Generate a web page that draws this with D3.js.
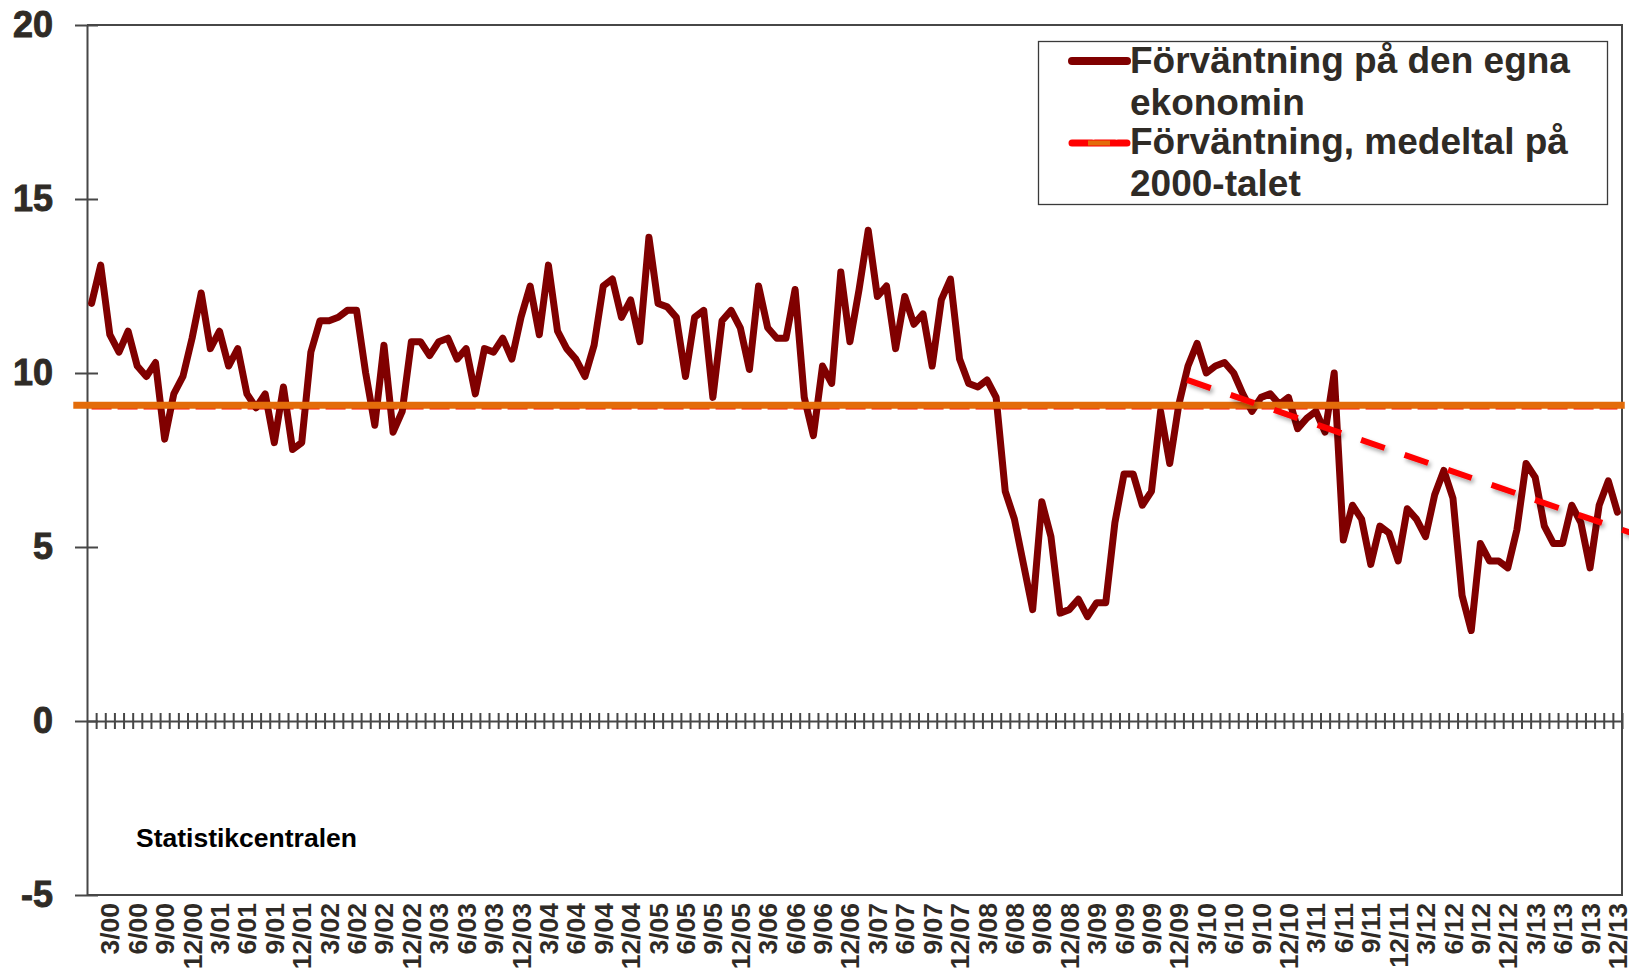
<!DOCTYPE html>
<html>
<head>
<meta charset="utf-8">
<script src="https://cdnjs.cloudflare.com/ajax/libs/d3/7.8.5/d3.min.js"></script>
<style>
  body { margin: 0; background: #fff; }
  text { font-family: "Liberation Sans", Arial, sans-serif; font-weight: bold; }
</style>
</head>
<body>
<div id="chart"></div>
<script>
// monthly values, jan 2000 -> dec 2013
var expectation = [
  12.0, 13.1, 11.1, 10.6, 11.2, 10.2, 9.9, 10.3, 8.1, 9.4, 9.9, 11.0,
  12.3, 10.7, 11.2, 10.2, 10.7, 9.4, 9.0, 9.4, 8.0, 9.6, 7.8, 8.0,
  10.6, 11.5, 11.5, 11.6, 11.8, 11.8, 10.0, 8.5, 10.8, 8.3, 8.9, 10.9,
  10.9, 10.5, 10.9, 11.0, 10.4, 10.7, 9.4, 10.7, 10.6, 11.0, 10.4, 11.6,
  12.5, 11.1, 13.1, 11.2, 10.7, 10.4, 9.9, 10.8, 12.5, 12.7, 11.6, 12.1,
  10.9, 13.9, 12.0, 11.9, 11.6, 9.9, 11.6, 11.8, 9.3, 11.5, 11.8, 11.3,
  10.1, 12.5, 11.3, 11.0, 11.0, 12.4, 9.3, 8.2, 10.2, 9.7, 12.9, 10.9,
  12.4, 14.1, 12.2, 12.5, 10.7, 12.2, 11.4, 11.7, 10.2, 12.1, 12.7, 10.4,
  9.7, 9.6, 9.8, 9.3, 6.6, 5.8, 4.5, 3.2, 6.3, 5.3, 3.1, 3.2,
  3.5, 3.0, 3.4, 3.4, 5.7, 7.1, 7.1, 6.2, 6.6, 8.9, 7.4, 9.1,
  10.2, 10.85, 10.0, 10.2, 10.3, 10.0, 9.4, 8.9, 9.3, 9.4, 9.1, 9.3,
  8.4, 8.7, 8.9, 8.3, 10.0, 5.2, 6.2, 5.8, 4.5, 5.6, 5.4, 4.6,
  6.1, 5.8, 5.3, 6.5, 7.2, 6.4, 3.6, 2.6, 5.1, 4.6, 4.6, 4.4,
  5.5, 7.4, 7.0, 5.6, 5.1, 5.1, 6.2, 5.7, 4.4, 6.2, 6.9, 6.0
];

// average of the 2000s
var averageLevel = 9.05;

// hand drawn shapes in the original: [month position, value]
var orangeLine = [[-1.5, 9.07], [168.3, 9.07]];
var trendLine = [[120.4, 9.8], [169.6, 5.35]];

var yTicks = [-5, 0, 5, 10, 15, 20];
var labelYears = ["00", "01", "02", "03", "04", "05", "06", "07", "08", "09", "10", "11", "12", "13"];
var labelMonths = [3, 6, 9, 12];

var legendLabels = [
  ["Förväntning på den egna", "ekonomin"],
  ["Förväntning, medeltal på", "2000-talet"]
];
var sourceText = "Statistikcentralen";

(function () {

  var width = 1629,
      height = 979;

  var left = 87, right = 1622, top = 25, bottom = 895;

  var ink = "#2f2b26",
      axisColor = "#474747";

  var svg = d3.select("#chart")
    .append("svg")
    .attr("width", width)
    .attr("height", height)

  var defs = svg.append("defs")

  //soft shadow under the trend dashes
  var shadow = defs.append("filter")
    .attr("id", "shadow")
    .attr("x", "-10%").attr("y", "-50%")
    .attr("width", "120%").attr("height", "200%")
  shadow.append("feDropShadow")
    .attr("dx", 2).attr("dy", 3)
    .attr("stdDeviation", 2)
    .attr("flood-color", "#000")
    .attr("flood-opacity", 0.35)

  //scales
  //x counts months from the left edge, a month is one category
  var n = expectation.length
  var x = d3.scaleLinear().domain([0, n]).range([left, right])
  var y = d3.scaleLinear().domain([-5, 20]).range([bottom, top])

  //frame of the plot (top, right, bottom)
  svg.append("path")
    .attr("d", "M" + left + "," + top + "H" + right + "V" + bottom + "H" + left)
    .attr("fill", "none")
    .attr("stroke", axisColor)
    .attr("stroke-width", 2)

  //y axis, ticks cross the line
  var yAxis = svg.append("g")
    .attr("transform", "translate(" + left + ",0)")
    .call(d3.axisLeft(y)
      .tickValues(yTicks)
      .tickSizeOuter(0)
      .tickSizeInner(12)
      .tickPadding(22)
      .tickFormat(function (d) { return String(d) }))

  yAxis.select(".domain").attr("stroke", axisColor).attr("stroke-width", 2)
  yAxis.selectAll(".tick line")
    .attr("x1", 11)
    .attr("stroke", axisColor)
    .attr("stroke-width", 2)
  //a thin stroke makes the numbers as heavy as in the original
  yAxis.selectAll(".tick text")
    .attr("fill", ink)
    .attr("stroke", ink)
    .attr("stroke-width", 0.9)
    .attr("font-size", 36)
    .attr("font-family", "Liberation Sans, Arial, sans-serif")
    .attr("font-weight", "bold")

  //x axis sits on zero, a tick between every month
  var xAxis = svg.append("g")
    .attr("transform", "translate(0," + y(0) + ")")
    .call(d3.axisBottom(x)
      .tickValues(d3.range(1, n + 1))
      .tickSizeOuter(0)
      .tickSizeInner(8)
      .tickFormat(""))

  xAxis.select(".domain").attr("stroke", axisColor).attr("stroke-width", 2)
  xAxis.selectAll(".tick line")
    .attr("y1", -8)
    .attr("stroke", axisColor)
    .attr("stroke-width", 2)

  //month labels under the plot, every third month
  var labels = []
  labelYears.forEach(function (yy, k) {
    labelMonths.forEach(function (m) {
      labels.push({ text: m + "/" + yy, month: k * 12 + m - 1 })
    })
  })

  svg.append("g").selectAll("text")
    .data(labels)
    .enter().append("text")
    .attr("transform", function (d) {
      return "translate(" + x(d.month + 0.5) + "," + (bottom + 8) + ") rotate(-90)"
    })
    .attr("text-anchor", "end")
    .attr("dy", "0.36em")
    .attr("font-size", 26.5)
    .attr("fill", ink)
    .text(function (d) { return d.text })

  //average series, red dashes (mostly hidden under the orange line)
  var line = d3.line()
    .x(function (d, i) { return x(i + 0.5) })
    .y(function (d) { return y(d) })

  svg.append("path")
    .datum(expectation.map(function () { return averageLevel }))
    .attr("d", line)
    .attr("fill", "none")
    .attr("stroke", "#ff0000")
    .attr("stroke-width", 7)
    .attr("stroke-dasharray", "20,6")

  //main series
  svg.append("path")
    .datum(expectation)
    .attr("d", line)
    .attr("fill", "none")
    .attr("stroke", "#800000")
    .attr("stroke-width", 7)
    .attr("stroke-linejoin", "round")
    .attr("stroke-linecap", "round")

  //orange average line drawn across the whole chart
  var pairLine = d3.line()
    .x(function (d) { return x(d[0]) })
    .y(function (d) { return y(d[1]) })

  svg.append("path")
    .datum(orangeLine)
    .attr("d", pairLine)
    .attr("stroke", "#e36c0a")
    .attr("stroke-width", 7)

  //trend since 2010, dashed with shadow
  svg.append("path")
    .datum(trendLine)
    .attr("d", pairLine)
    .attr("stroke", "#ff0000")
    .attr("stroke-width", 6)
    .attr("stroke-dasharray", "25,21")
    .attr("filter", "url(#shadow)")

  //source
  svg.append("text")
    .attr("x", 136)
    .attr("y", 847)
    .attr("font-size", 26.5)
    .attr("fill", "#000")
    .text(sourceText)

  /* legend */
  var legend = svg.append("g")

  legend.append("rect")
    .attr("x", 1038.5)
    .attr("y", 41.5)
    .attr("width", 569)
    .attr("height", 163)
    .attr("fill", "#fff")
    .attr("stroke", "#3a3a3a")
    .attr("stroke-width", 1.3)

  var itemTop = [48, 129]

  var items = legend.selectAll(".item")
    .data(legendLabels)
    .enter().append("g")
    .attr("class", "item")
    .attr("transform", function (d, i) { return "translate(0," + itemTop[i] + ")" })

  items.append("text")
    .attr("font-size", 37)
    .attr("fill", ink)
    .selectAll("tspan")
    .data(function (d) { return d })
    .enter().append("tspan")
    .attr("x", 1130)
    .attr("y", function (d, j) { return 25 + j * 42 })
    .text(function (d) { return d })

  //samples
  items.filter(function (d, i) { return i === 0 })
    .append("line")
    .attr("x1", 1072).attr("x2", 1127)
    .attr("y1", 13).attr("y2", 13)
    .attr("stroke", "#800000")
    .attr("stroke-width", 8)
    .attr("stroke-linecap", "round")

  var second = items.filter(function (d, i) { return i === 1 })
  second.append("line")
    .attr("x1", 1072).attr("x2", 1127)
    .attr("y1", 14).attr("y2", 14)
    .attr("stroke", "#ff0000")
    .attr("stroke-width", 7)
    .attr("stroke-dasharray", "20,3")
    .attr("stroke-linecap", "round")
  second.append("line")
    .attr("x1", 1088).attr("x2", 1110)
    .attr("y1", 14).attr("y2", 14)
    .attr("stroke", "#e36c0a")
    .attr("stroke-width", 5)

})()
</script>
</body>
</html>
